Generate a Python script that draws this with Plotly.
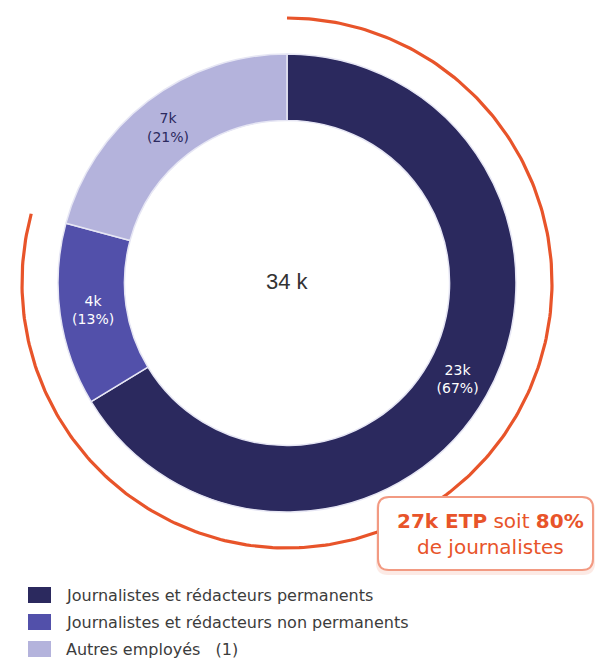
import numpy as np
import plotly.graph_objects as go

# Workforce breakdown (thousands of FTE and share of total, %)
categories = [
    "Journalistes et rédacteurs permanents",
    "Journalistes et rédacteurs non permanents",
    "Autres employés   (1)",
]
effectifs_k = [23, 4, 7]
parts_pct = [67, 13, 21]
colors = ["#2B295E", "#5250AA", "#B4B3DC"]
label_colors = ["#FFFFFF", "#FFFFFF", "#2B295E"]

W, H = 597, 662
CX, CY = 287, 283          # donut centre (px)
R_PIE = 229                # donut outer radius (px)
R_ARC = 265                # journalist arc radius (px)
ORANGE = "#E8542A"

fig = go.Figure()

# Donut
fig.add_trace(go.Pie(
    values=parts_pct,
    labels=categories,
    text=[f"{k}k<br>({p}%)" for k, p in zip(effectifs_k, parts_pct)],
    textinfo="text",
    textposition="inside",
    insidetextorientation="horizontal",
    textfont=dict(family="DejaVu Sans", size=14, color=label_colors),
    marker=dict(colors=colors, line=dict(color="#E6E6F4", width=1.5)),
    hole=0.71,
    sort=False,
    direction="clockwise",
    rotation=0,
    showlegend=False,
    hoverinfo="skip",
    domain=dict(x=[(CX - R_PIE) / W, (CX + R_PIE) / W],
                y=[(H - CY - R_PIE) / H, (H - CY + R_PIE) / H]),
))

# Arc around the journalist slices (permanent + non permanent)
journalist_share = (parts_pct[0] + parts_pct[1]) / sum(parts_pct)
theta = np.radians(np.linspace(0, 360 * journalist_share, 300))
fig.add_trace(go.Scatter(
    x=CX + R_ARC * np.sin(theta),
    y=CY - R_ARC * np.cos(theta),
    mode="lines",
    line=dict(color=ORANGE, width=3.2),
    hoverinfo="skip",
    showlegend=False,
))

# Total in the centre
fig.add_annotation(x=CX, y=CY - 2, text=f"{sum(effectifs_k)} k", showarrow=False,
                   font=dict(family="Liberation Sans", size=22, color="#333333"))


def rounded_rect(x0, y0, x1, y1, r):
    return (f"M {x0 + r},{y0} L {x1 - r},{y0} Q {x1},{y0} {x1},{y0 + r} "
            f"L {x1},{y1 - r} Q {x1},{y1} {x1 - r},{y1} L {x0 + r},{y1} "
            f"Q {x0},{y1} {x0},{y1 - r} L {x0},{y0 + r} Q {x0},{y0} {x0 + r},{y0} Z")


# Callout box
bx0, by0, bx1, by1 = 378, 497, 593, 570
fig.add_shape(type="path", path=rounded_rect(bx0 - 2, by0 + 1, bx1 + 2, by1 + 5, 12),
              fillcolor="rgba(232,84,42,0.12)", line=dict(width=0), layer="above")
fig.add_shape(type="path", path=rounded_rect(bx0, by0, bx1, by1, 11),
              fillcolor="#FFFFFF", line=dict(color="#F29A82", width=2), layer="above")
journalists_k = effectifs_k[0] + effectifs_k[1]
journalists_pct = parts_pct[0] + parts_pct[1]
fig.add_annotation(
    x=(bx0 + bx1) / 2 + 5, y=(by0 + by1) / 2, showarrow=False,
    text=(f"<b>{journalists_k}k ETP</b> soit <b>{journalists_pct}%</b>"
          f"<br>de journalistes"),
    font=dict(family="DejaVu Sans", size=20, color=ORANGE),
    align="center",
)

# Legend
leg_y0, leg_dy = 595, 27
for i, (name, col) in enumerate(zip(categories, colors)):
    yc = leg_y0 + i * leg_dy
    fig.add_shape(type="rect", x0=28, x1=51, y0=yc - 8, y1=yc + 8,
                  fillcolor=col, line=dict(width=0))
    fig.add_annotation(x=64, y=yc, text=name, showarrow=False, xanchor="left",
                       font=dict(family="DejaVu Sans", size=16, color="#3C3C3C"))

fig.update_xaxes(range=[0, W], visible=False, fixedrange=True)
fig.update_yaxes(range=[H, 0], visible=False, fixedrange=True)
fig.update_layout(
    width=W, height=H,
    margin=dict(l=0, r=0, t=0, b=0),
    paper_bgcolor="white", plot_bgcolor="white",
)

fig.write_html("out.html")
